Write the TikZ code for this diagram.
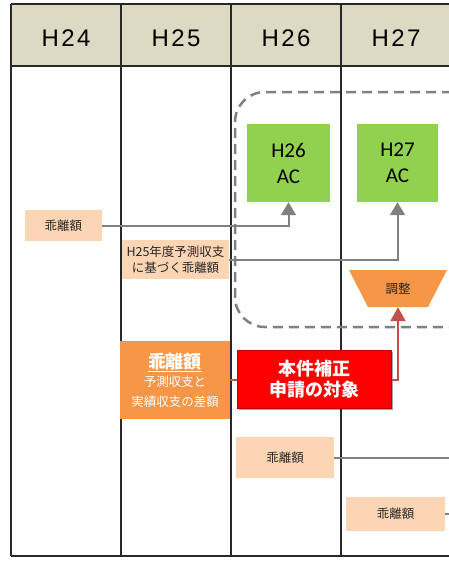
\documentclass[tikz,border=0pt]{standalone}
\usepackage{fontspec}
\usepackage{tikz}
\usetikzlibrary{arrows.meta,shadows}

\setmainfont{Liberation Sans}
\newfontfamily\jpfont{Noto Sans CJK JP}
\newfontfamily\acfont{Carlito}
\newfontfamily\hdfont{Liberation Sans}[LetterSpace=10]

\definecolor{headtan}{RGB}{221,217,195}
\definecolor{acgreen}{RGB}{146,208,80}
\definecolor{devpeach}{RGB}{252,213,181}
\definecolor{adjorange}{RGB}{247,150,70}
\definecolor{flowgray}{RGB}{128,128,128}
\definecolor{flowred}{RGB}{192,80,77}
\definecolor{gridline}{RGB}{40,40,40}
\definecolor{inktext}{RGB}{38,38,38}

\begin{document}
\begin{tikzpicture}[x=1pt,y=-1pt,
    gridrule/.style={draw=gridline, line width=1.3pt},
    yearlabel/.style={font=\hdfont\fontsize{24}{24}\selectfont, text=black},
    box/.style={inner sep=0pt, align=center},
    devbox/.style={box, fill=devpeach, text=inktext, font=\jpfont\fontsize{12.5}{15.5}\selectfont},
    acbox/.style={box, fill=acgreen, minimum height=78pt, font=\acfont\fontsize{21}{26}\selectfont},
    flow/.style={draw=flowgray, line width=2pt, -{Triangle[width=15pt,length=13pt]}},
    redflow/.style={draw=flowred, line width=2pt}]
            \useasboundingbox (0,0) rectangle (448,563);

            \fill[headtan] (11,4) rectangle (470,66);
            \draw[gridrule] (11,4) -- (470,4);
            \draw[gridrule] (11,66) -- (470,66);
            \draw[gridrule] (11,556) -- (470,556);
            \foreach \x in {11,121,231,341}
                \draw[gridrule] (\x,4) -- (\x,556);

            \node (h24) at (66,38) [yearlabel] {H24};
            \node (h25) at (176,38) [yearlabel] {H25};
            \node (h26) at (286,38) [yearlabel] {H26};
            \node (h27) at (396,38) [yearlabel] {H27};

            \draw[draw=flowgray, line width=2.5pt, dash pattern=on 10pt off 6pt, rounded corners=30pt]
                (500,92) -- (235,92) -- (235,327) -- (500,327);

            \node (ac26) at (288.5,163) [acbox, minimum width=83pt] {H26\\AC};
            \node (ac27) at (397.5,163) [acbox, minimum width=81pt] {H27\\AC};

            \fill[adjorange] (349,270) -- (447,270) -- (428,307) -- (368,307) -- cycle;
            \node (adj) at (398,288.5) [box, minimum width=60pt, minimum height=37pt, text=inktext,
                font=\jpfont\fontsize{12.5}{15}\selectfont] {調整};

            \node (dev24) at (63.5,225.5) [devbox, minimum width=77pt, minimum height=31pt] {乖離額};
            \node (dev25) at (175.5,259.5) [devbox, minimum width=107pt, minimum height=39pt] {H25年度予測収支\\に基づく乖離額};
            \node (dev26) at (285,457.5) [devbox, minimum width=98pt, minimum height=41pt] {乖離額};
            \node (dev27) at (395.5,514) [devbox, minimum width=99pt, minimum height=34pt] {乖離額};

            \node (gap) at (175,380) [box, fill=adjorange, minimum width=110pt, minimum height=78pt, text=white,
                font=\jpfont\fontsize{12.5}{20}\selectfont]
                {{\fontsize{18}{18}\selectfont\bfseries\underline{乖離額}}\\[-2pt]予測収支と\\実績収支の差額};
            \node (target) at (314,379) [box, fill=red, draw=red!75!black, line width=1pt,
                minimum width=154pt, minimum height=58pt, text=white,
                drop shadow={shadow xshift=2pt, shadow yshift=-2pt, opacity=0.35, fill=black},
                font=\jpfont\bfseries\fontsize{18}{21}\selectfont] {本件補正\\申請の対象};

            \coordinate (e26) at (470,457.5);
            \coordinate (e27) at (470,514);

            \draw[flow] (dev24.east) -| (ac26.south);
            \draw[flow] (dev25.east) -| (ac27.south);
            \draw[redflow] (gap.east) -- (gap.east -| target.west);
            \draw[redflow, -{Triangle[width=15pt,length=14pt]}] (target.east |- gap.east) -| (adj.south);
            \draw[draw=flowgray, line width=2pt] (dev26.east) -- (e26);
            \draw[draw=flowgray, line width=2pt] (dev27.east) -- (e27);

            \end{tikzpicture}
\end{document}
